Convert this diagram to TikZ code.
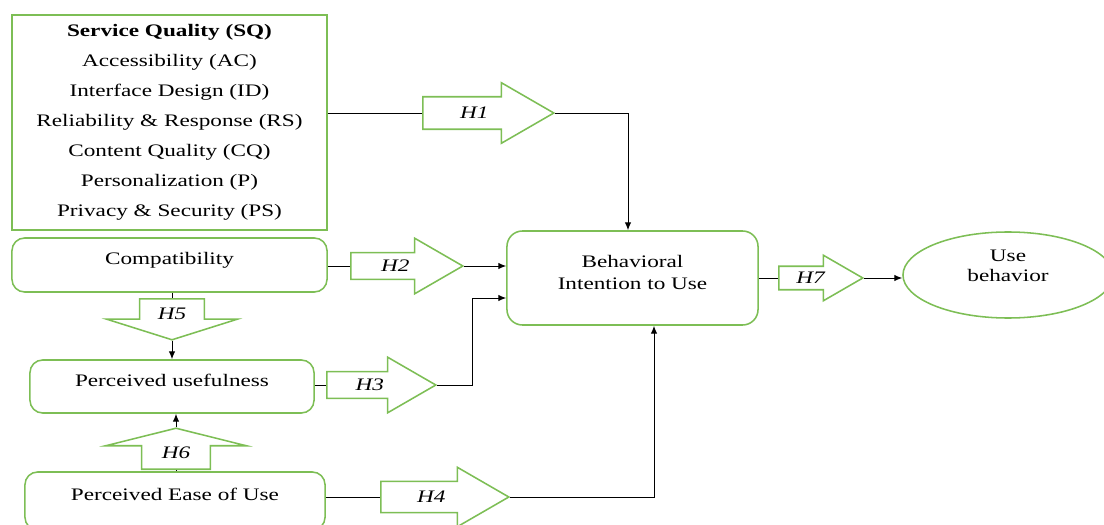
\documentclass[tikz,border=0pt]{standalone}
\usepackage{fontspec}
\setmainfont{Liberation Serif}[FakeStretch=1.32]
\usetikzlibrary{arrows.meta, shapes.geometric, shapes.arrows, positioning}
\definecolor{boxgreen}{RGB}{125, 190, 85}

\begin{document}
\begin{tikzpicture}[
          x=0.025cm, y=-0.025cm,
          box/.style={draw=boxgreen, line width=1.1pt, rounded corners=9pt, fill=white,
                      inner sep=0pt, font=\fontsize{12.5}{15.6}\selectfont, align=center},
          oneline/.style={text height=8pt, text depth=8.4pt},
          hyp/.style={single arrow, draw=boxgreen, line width=1.1pt, fill=white, inner sep=0pt,
                      text height=8pt, text depth=0pt,
                      single arrow tip angle=60, anchor=tail,
                      font=\fontsize{12.5}{15}\selectfont\itshape},
          link/.style={line width=0.7pt},
          arr/.style={link, -{Latex[length=5.5pt, width=4.5pt]}},
        ]
        \useasboundingbox (0,0) rectangle (1104,525);

        % constructs
        \node[box, sharp corners, minimum width=7.875cm, minimum height=5.375cm,
              font=\fontsize{12.5}{21.3}\selectfont] (sq) at (169.5,122.5)
              {\textbf{Service Quality (SQ)}\\ Accessibility (AC)\\ Interface Design (ID)\\
               Reliability \& Response (RS)\\ Content Quality (CQ)\\ Personalization (P)\\
               Privacy \& Security (PS)};
        \node[box, oneline, minimum width=7.875cm, minimum height=1.35cm]  (comp) at (169.5,265) {Compatibility};
        \node[box, oneline, minimum width=7.1cm,   minimum height=1.325cm] (pu)   at (172,386.5) {Perceived usefulness};
        \node[box, oneline, minimum width=7.5cm,   minimum height=1.45cm]  (peou) at (175,501)   {Perceived Ease of Use};
        \node[box, rounded corners=11pt, minimum width=6.275cm, minimum height=2.35cm,
              text height=16.8pt, text depth=0pt] (bi) at (632.5,278) {Behavioral\\Intention to Use};
        \node[box, ellipse, minimum width=5.25cm, minimum height=2.15cm,
              font=\fontsize{12.5}{14.5}\selectfont,
              text height=9.6pt, text depth=0pt] (ub) at (1008,275) {Use\\behavior};

        % hypotheses (width = across the head, height = along the arrow)
        \node[hyp, inner ysep=7pt,   minimum width=1.475cm, minimum height=3.275cm, single arrow head extend=0.35cm]   (h1) at (422,113) {H1};
        \node[hyp, inner ysep=4.9pt, minimum width=1.35cm,  minimum height=2.8cm,   single arrow head extend=0.3625cm] (h2) at (350,266) {H2};
        \node[hyp, inner ysep=4.9pt, minimum width=1.35cm,  minimum height=2.725cm, single arrow head extend=0.3625cm] (h3) at (326,385) {H3};
        \node[hyp, inner ysep=6.6pt, minimum width=1.45cm,  minimum height=3.2cm,   single arrow head extend=0.35cm]   (h4) at (380,497) {H4};
        \node[hyp, inner xsep=12.4pt, minimum width=3.225cm, minimum height=1.025cm, single arrow head extend=0.825cm,
              single arrow tip angle=145, shape border rotate=270] (h5) at (172,298) {H5};
        \node[hyp, inner xsep=13.8pt, minimum width=3.475cm, minimum height=1.025cm, single arrow head extend=0.9cm,
              single arrow tip angle=152, shape border rotate=90]  (h6) at (176,470) {H6};
        \node[hyp, inner ysep=3.8pt, minimum width=1.1cm,   minimum height=2.1cm,   single arrow head extend=0.275cm]  (h7) at (778,278) {H7};

        \coordinate (j1) at (628,113);
        \coordinate (j3) at (472,298);
        \coordinate (j4) at (654,497);

        \draw[link] (h1.tail -| sq.east) -- (h1.tail);
        \draw[arr]  (h1.tip) -- (j1) -- (j1 |- bi.north);
        \draw[link] (h2.tail -| comp.east) -- (h2.tail);
        \draw[arr]  (h2.tip) -- (h2.tip -| bi.west);
        \draw[link] (h3.tail -| pu.east) -- (h3.tail);
        \draw[arr]  (h3.tip) -| (j3) -- (j3 -| bi.west);
        \draw[link] (h4.tail -| peou.east) -- (h4.tail);
        \draw[arr]  (h4.tip) -- (j4) -- (j4 |- bi.south);
        \draw[link] (h5.tail |- comp.south) -- (h5.tail);
        \draw[arr]  (h5.tip) -- (h5.tip |- pu.north);
        \draw[link] (h6.tail |- peou.north) -- (h6.tail);
        \draw[arr]  (h6.tip) -- (h6.tip |- pu.south);
        \draw[link] (h7.tail -| bi.east) -- (h7.tail);
        \draw[arr]  (h7.tip) -- (h7.tip -| ub.west);
      \end{tikzpicture}
\end{document}
